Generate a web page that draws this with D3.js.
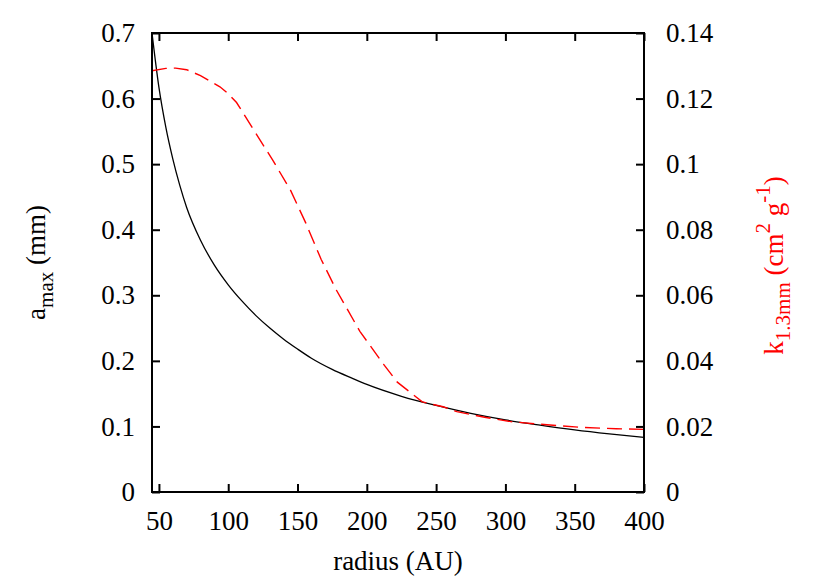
<!DOCTYPE html>
<html>
<head>
<meta charset="utf-8">
<script src="https://cdn.jsdelivr.net/npm/d3@7"></script>
<style>
  body { margin: 0; background: #fff; }
</style>
</head>
<body>
<svg id="chart" width="830" height="581"></svg>
<script>
// a_max (mm) vs radius, left axis
const radius = [45, 50, 55, 60, 65, 70, 80, 90, 100, 110, 120, 130, 140, 150, 160, 175, 190, 200, 225, 250, 275, 300, 325, 350, 375, 400];
const amax   = [0.700, 0.617, 0.556, 0.508, 0.468, 0.434, 0.384, 0.346, 0.316, 0.291, 0.269, 0.250, 0.233, 0.218, 0.204, 0.187, 0.173, 0.164, 0.146, 0.132, 0.120, 0.110, 0.102, 0.0948, 0.0887, 0.0833];

// k_1.3mm (cm^2 g^-1) vs radius, right axis
const kRadius = [45, 55, 62, 70, 80, 94, 100, 106, 118, 132, 145, 156, 167, 178, 195, 212, 222, 240, 255, 265, 285, 305, 330, 355, 380, 400];
const kappa   = [0.1285, 0.1292, 0.1293, 0.1288, 0.1270, 0.1236, 0.1215, 0.1188, 0.1107, 0.1013, 0.0920, 0.0820, 0.0710, 0.0616, 0.0490, 0.0390, 0.0335, 0.0275, 0.0260, 0.0245, 0.0228, 0.0214, 0.0205, 0.0197, 0.0193, 0.0191];

const xTicks = [50, 100, 150, 200, 250, 300, 350, 400];
const yLeftTicks = [0, 0.1, 0.2, 0.3, 0.4, 0.5, 0.6, 0.7];
const yRightTicks = [0, 0.02, 0.04, 0.06, 0.08, 0.1, 0.12, 0.14];

const FONT = '"Liberation Serif"';
const svg = d3.select("#chart");
const margin = { top: 33, right: 186, bottom: 89, left: 152 };
const width = 830, height = 581;
const fs = 27;     // main text size
const fsSub = 21;  // sub/superscripts

const x = d3.scaleLinear().domain([45, 400]).range([margin.left, width - margin.right]);
const yL = d3.scaleLinear().domain([0, 0.7]).range([height - margin.bottom, margin.top]);
const yR = d3.scaleLinear().domain([0, 0.14]).range([height - margin.bottom, margin.top]);

svg.append("defs").append("clipPath").attr("id", "clip")
  .append("rect")
  .attr("x", margin.left).attr("y", margin.top)
  .attr("width", width - margin.left - margin.right)
  .attr("height", height - margin.top - margin.bottom);

// curves
const amaxLine = d3.line().curve(d3.curveMonotoneX)
  .x((d, i) => x(radius[i])).y(d => yL(d));
svg.append("path").datum(amax)
  .attr("clip-path", "url(#clip)")
  .attr("fill", "none").attr("stroke", "#000").attr("stroke-width", 1.3)
  .attr("d", amaxLine);

const kLine = d3.line()
  .x((d, i) => x(kRadius[i])).y(d => yR(d));
svg.append("path").datum(kappa)
  .attr("clip-path", "url(#clip)")
  .attr("fill", "none").attr("stroke", "#ff0000").attr("stroke-width", 1.4)
  .attr("stroke-dasharray", "15,7")
  .attr("d", kLine);

// axes, all ticks pointing inward
function styleAxis(g) {
  g.attr("font-family", null).attr("font-size", null);
  g.select(".domain").remove();
  g.selectAll(".tick line").attr("stroke", "#000").attr("stroke-width", 2);
  g.selectAll(".tick text").attr("fill", "#000")
    .attr("font-family", FONT).attr("font-size", fs);
}

svg.append("g").attr("transform", `translate(0,${height - margin.bottom})`)
  .call(d3.axisBottom(x).tickValues(xTicks).tickSize(-8).tickPadding(19).tickFormat(d3.format("d")))
  .call(styleAxis);

svg.append("g").attr("transform", `translate(0,${margin.top})`)
  .call(d3.axisTop(x).tickValues(xTicks).tickSize(-8).tickFormat(""))
  .call(styleAxis);

svg.append("g").attr("transform", `translate(${margin.left},0)`)
  .call(d3.axisLeft(yL).tickValues(yLeftTicks).tickSize(-8).tickPadding(17).tickFormat(d => String(d)))
  .call(styleAxis);

svg.append("g").attr("transform", `translate(${width - margin.right},0)`)
  .call(d3.axisRight(yR).tickValues(yRightTicks).tickSize(-8).tickPadding(22).tickFormat(d => String(d)))
  .call(styleAxis);

// border
svg.append("rect")
  .attr("x", margin.left).attr("y", margin.top)
  .attr("width", width - margin.left - margin.right)
  .attr("height", height - margin.top - margin.bottom)
  .attr("fill", "none").attr("stroke", "#000").attr("stroke-width", 2);

// axis titles
svg.append("text")
  .attr("x", (margin.left + width - margin.right) / 2).attr("y", 570)
  .attr("text-anchor", "middle").attr("font-family", FONT).attr("font-size", fs)
  .text("radius (AU)");

const midY = (margin.top + height - margin.bottom) / 2;

const leftLab = svg.append("text")
  .attr("transform", `translate(45,${midY}) rotate(-90)`)
  .attr("text-anchor", "middle").attr("font-family", FONT).attr("font-size", fs);
leftLab.append("tspan").text("a");
leftLab.append("tspan").attr("dy", 8).attr("font-size", fsSub).text("max");
leftLab.append("tspan").attr("dy", -8).text(" (mm)");

const rightLab = svg.append("text")
  .attr("transform", `translate(783,${midY + 3}) rotate(-90)`)
  .attr("text-anchor", "middle").attr("fill", "#ff0000")
  .attr("font-family", FONT).attr("font-size", fs);
rightLab.append("tspan").text("k");
rightLab.append("tspan").attr("dy", 7).attr("font-size", fsSub).text("1.3mm");
rightLab.append("tspan").attr("dy", -7).text(" (cm");
rightLab.append("tspan").attr("dy", -13).attr("font-size", fsSub).text("2");
rightLab.append("tspan").attr("dy", 13).text(" g");
rightLab.append("tspan").attr("dy", -13).attr("font-size", fsSub).text("-1");
rightLab.append("tspan").attr("dy", 13).text(")");
</script>
</body>
</html>
